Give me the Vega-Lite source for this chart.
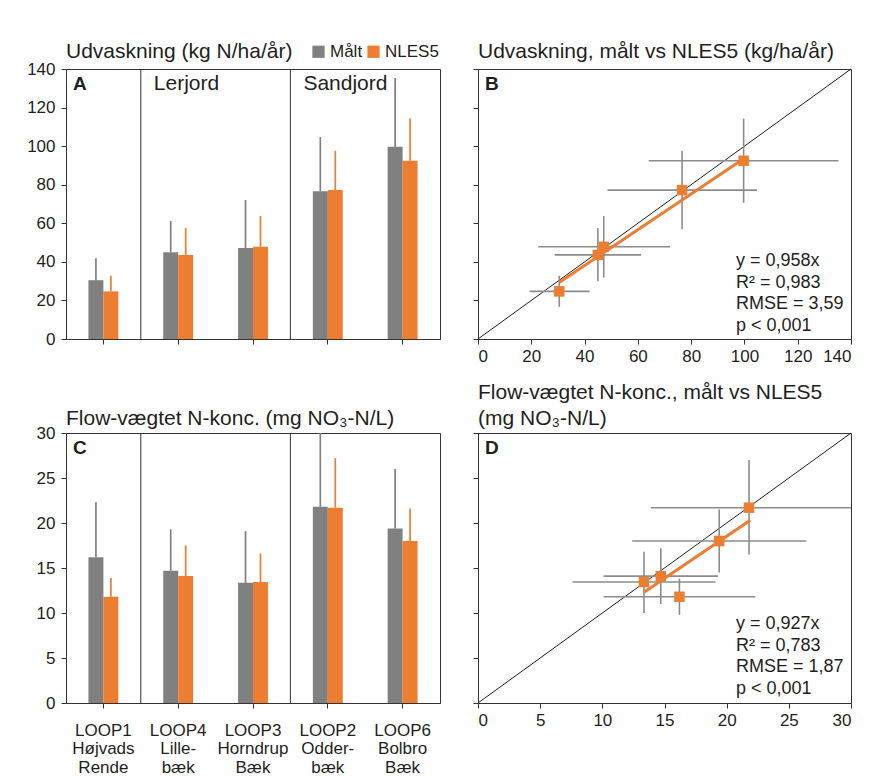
{
  "$schema": "https://vega.github.io/schema/vega-lite/v6.json",
  "padding": {"left": 26, "top": 40, "right": 5, "bottom": 5},
  "background": "white",
  "columns": 2,
  "spacing": {"row": 94, "column": 38},
  "bounds": "flush",
  "datasets": {
    "udv": [
      {"site": "LOOP1|Højvads|Rende", "series": "Målt", "value": 30.5, "upper": 41.9},
      {"site": "LOOP1|Højvads|Rende", "series": "NLES5", "value": 24.7, "upper": 32.8},
      {"site": "LOOP4|Lille-|bæk", "series": "Målt", "value": 45.0, "upper": 61.2},
      {"site": "LOOP4|Lille-|bæk", "series": "NLES5", "value": 43.6, "upper": 57.6},
      {"site": "LOOP3|Horndrup|Bæk", "series": "Målt", "value": 47.2, "upper": 72.1},
      {"site": "LOOP3|Horndrup|Bæk", "series": "NLES5", "value": 47.8, "upper": 63.8},
      {"site": "LOOP2|Odder-|bæk", "series": "Målt", "value": 76.6, "upper": 104.7},
      {"site": "LOOP2|Odder-|bæk", "series": "NLES5", "value": 77.2, "upper": 97.6},
      {"site": "LOOP6|Bolbro|Bæk", "series": "Målt", "value": 99.7, "upper": 135.3},
      {"site": "LOOP6|Bolbro|Bæk", "series": "NLES5", "value": 92.4, "upper": 114.3}
    ],
    "udvxy": [
      {"site": "LOOP1", "maalt": 30.5, "maalt_lo": 19.4, "maalt_hi": 41.9, "nles": 24.7, "nles_lo": 16.7, "nles_hi": 32.8},
      {"site": "LOOP4", "maalt": 45.0, "maalt_lo": 28.8, "maalt_hi": 61.2, "nles": 43.6, "nles_lo": 30.0, "nles_hi": 57.6},
      {"site": "LOOP3", "maalt": 47.2, "maalt_lo": 22.6, "maalt_hi": 72.1, "nles": 47.8, "nles_lo": 31.9, "nles_hi": 63.8},
      {"site": "LOOP2", "maalt": 76.6, "maalt_lo": 48.6, "maalt_hi": 104.7, "nles": 77.2, "nles_lo": 56.9, "nles_hi": 97.6},
      {"site": "LOOP6", "maalt": 99.7, "maalt_lo": 64.1, "maalt_hi": 135.3, "nles": 92.4, "nles_lo": 70.6, "nles_hi": 114.3}
    ],
    "konc": [
      {"site": "LOOP1|Højvads|Rende", "series": "Målt", "value": 16.2, "upper": 22.3},
      {"site": "LOOP1|Højvads|Rende", "series": "NLES5", "value": 11.8, "upper": 13.9},
      {"site": "LOOP4|Lille-|bæk", "series": "Målt", "value": 14.7, "upper": 19.3},
      {"site": "LOOP4|Lille-|bæk", "series": "NLES5", "value": 14.1, "upper": 17.5},
      {"site": "LOOP3|Horndrup|Bæk", "series": "Målt", "value": 13.35, "upper": 19.1},
      {"site": "LOOP3|Horndrup|Bæk", "series": "NLES5", "value": 13.45, "upper": 16.6},
      {"site": "LOOP2|Odder-|bæk", "series": "Målt", "value": 21.8, "upper": 30.0},
      {"site": "LOOP2|Odder-|bæk", "series": "NLES5", "value": 21.7, "upper": 27.2},
      {"site": "LOOP6|Bolbro|Bæk", "series": "Målt", "value": 19.4, "upper": 26.0},
      {"site": "LOOP6|Bolbro|Bæk", "series": "NLES5", "value": 18.0, "upper": 21.6}
    ],
    "koncxy": [
      {"site": "LOOP1", "maalt": 16.2, "maalt_lo": 10.1, "maalt_hi": 22.3, "nles": 11.8, "nles_lo": 9.8, "nles_hi": 13.8},
      {"site": "LOOP4", "maalt": 14.7, "maalt_lo": 10.1, "maalt_hi": 19.3, "nles": 14.1, "nles_lo": 11.0, "nles_hi": 17.2},
      {"site": "LOOP3", "maalt": 13.35, "maalt_lo": 7.6, "maalt_hi": 19.1, "nles": 13.45, "nles_lo": 10.0, "nles_hi": 16.8},
      {"site": "LOOP2", "maalt": 21.8, "maalt_lo": 13.9, "maalt_hi": 30.0, "nles": 21.7, "nles_lo": 16.5, "nles_hi": 27.0},
      {"site": "LOOP6", "maalt": 19.4, "maalt_lo": 12.4, "maalt_hi": 26.4, "nles": 18.0, "nles_lo": 14.5, "nles_hi": 21.5}
    ]
  },
  "concat": [
    {
      "width": 374,
      "height": 270,
      "title": {"text": "Udvaskning (kg N/ha/år)", "offset": -2},
      "layer": [
        {
          "data": {"name": "udv"},
          "encoding": {
            "x": {"field": "site", "type": "nominal", "sort": null,
                  "scale": {"paddingInner": 0.6, "paddingOuter": 0.3},
                  "axis": {"labels": false, "ticks": true, "title": null, "tickLength": 9}},
            "xOffset": {"field": "series", "type": "nominal", "scale": {"paddingInner": 0, "paddingOuter": 0}},
            "color": {"field": "series", "type": "nominal",
                      "scale": {"domain": ["Målt", "NLES5"], "range": ["#808080", "#ED7D31"]},
                      "legend": {"orient": "none", "legendX": 244, "legendY": -26, "direction": "horizontal", "title": null,
                                 "symbolType": "square", "symbolSize": 150, "labelFontSize": 17, "columnPadding": 2,
                                 "labelOffset": 3, "symbolStrokeWidth": 0, "padding": 0, "symbolOpacity": 1}}
          },
          "layer": [
            {"mark": {"type": "bar"},
             "encoding": {"y": {"field": "value", "type": "quantitative", "stack": null,
                                "scale": {"domain": [0, 140], "nice": false},
                                "axis": {"values": [0, 20, 40, 60, 80, 100, 120, 140], "title": null, "tickLength": 11, "labelPadding": 6, "labelOverlap": false}}}},
            {"mark": {"type": "rule", "strokeWidth": 1.7},
             "encoding": {"y": {"field": "value", "type": "quantitative", "title": null,
                                "axis": {"values": [0, 20, 40, 60, 80, 100, 120, 140], "title": null, "tickLength": 11, "labelPadding": 6, "labelOverlap": false}},
                          "y2": {"field": "upper"}}}
          ]
        },
        {
          "data": {"values": [{"boundary": 1}, {"boundary": 3}]},
          "mark": {"type": "rule", "color": "#333333", "strokeWidth": 1},
          "encoding": {"x": {"field": "boundary", "type": "quantitative", "scale": {"domain": [0, 5]}, "axis": null}}
        },
        {
          "data": {"values": [{"label": "Lerjord", "start": 1, "top": 140}, {"label": "Sandjord", "start": 3, "top": 140}]},
          "mark": {"type": "text", "align": "left", "baseline": "top", "dx": 13, "dy": 4, "fontSize": 21, "color": "#231f20"},
          "encoding": {"x": {"field": "start", "type": "quantitative", "scale": {"domain": [0, 5]}, "axis": null},
                       "y": {"field": "top", "type": "quantitative",
                             "axis": {"values": [0, 20, 40, 60, 80, 100, 120, 140], "title": null, "tickLength": 11, "labelPadding": 6, "labelOverlap": false}},
                       "text": {"field": "label"}}
        },
        {
          "data": {"values": [{"panel": "A", "start": 0, "top": 140}]},
          "mark": {"type": "text", "align": "left", "baseline": "top", "dx": 7, "dy": 6, "fontSize": 19, "fontWeight": "bold", "color": "#231f20"},
          "encoding": {"x": {"field": "start", "type": "quantitative", "scale": {"domain": [0, 5]}, "axis": null},
                       "y": {"field": "top", "type": "quantitative",
                             "axis": {"values": [0, 20, 40, 60, 80, 100, 120, 140], "title": null, "tickLength": 11, "labelPadding": 6, "labelOverlap": false}},
                       "text": {"field": "panel"}}
        }
      ],
      "resolve": {"scale": {"x": "independent"}, "axis": {"x": "independent"}}
    },
    {
      "width": 373,
      "height": 270,
      "title": {"text": "Udvaskning, målt vs NLES5 (kg/ha/år)", "offset": 7},
      "encoding": {
        "x": {"type": "quantitative", "scale": {"domain": [0, 140], "nice": false},
              "axis": {"values": [0, 20, 40, 60, 80, 100, 120, 140], "title": null, "tickLength": 9, "labelPadding": 4, "labelOverlap": false}},
        "y": {"type": "quantitative", "scale": {"domain": [0, 140], "nice": false},
              "axis": {"values": [0, 20, 40, 60, 80, 100, 120, 140], "title": null, "tickLength": 11, "labels": false}}
      },
      "layer": [
        {
          "data": {"values": [{"x": 0, "y": 0, "x2": 140, "y2": 140}]},
          "mark": {"type": "rule", "color": "#231f20", "strokeWidth": 1},
          "encoding": {"x": {"field": "x"}, "y": {"field": "y"}, "x2": {"field": "x2"}, "y2": {"field": "y2"}}
        },
        {
          "data": {"name": "udvxy"},
          "mark": {"type": "rule", "color": "#8c8c8c", "strokeWidth": 1.6},
          "encoding": {"x": {"field": "maalt_lo"}, "x2": {"field": "maalt_hi"}, "y": {"field": "nles"}}
        },
        {
          "data": {"name": "udvxy"},
          "mark": {"type": "rule", "color": "#8c8c8c", "strokeWidth": 1.6},
          "encoding": {"x": {"field": "maalt"}, "y": {"field": "nles_lo"}, "y2": {"field": "nles_hi"}}
        },
        {
          "data": {"values": [{"x": 30.5, "y": 29.3, "x2": 99.7, "y2": 93.5}]},
          "mark": {"type": "rule", "color": "#ED7D31", "strokeWidth": 3},
          "encoding": {"x": {"field": "x"}, "y": {"field": "y"}, "x2": {"field": "x2"}, "y2": {"field": "y2"}}
        },
        {
          "data": {"name": "udvxy"},
          "mark": {"type": "point", "shape": "square", "filled": true, "size": 110, "opacity": 1, "color": "#ED7D31"},
          "encoding": {"x": {"field": "maalt"}, "y": {"field": "nles"}}
        },
        {
          "data": {"values": [{"panel": "B", "x": 0, "y": 140}]},
          "mark": {"type": "text", "align": "left", "baseline": "top", "dx": 7, "dy": 6, "fontSize": 19, "fontWeight": "bold", "color": "#231f20"},
          "encoding": {"x": {"field": "x"}, "y": {"field": "y"}, "text": {"field": "panel"}}
        },
        {
          "data": {"values": [{"x": 96.8, "y": 37.85}]},
          "mark": {"type": "text", "align": "left", "baseline": "alphabetic", "fontSize": 18, "lineHeight": 21.7, "color": "#231f20",
                   "text": ["y = 0,958x", "R² = 0,983", "RMSE = 3,59", "p < 0,001"]},
          "encoding": {"x": {"field": "x"}, "y": {"field": "y"}}
        }
      ]
    },
    {
      "width": 374,
      "height": 270,
      "title": {"text": "Flow-vægtet N-konc. (mg NO₃-N/L)", "offset": -5},
      "layer": [
        {
          "data": {"name": "konc"},
          "encoding": {
            "x": {"field": "site", "type": "nominal", "sort": null,
                  "scale": {"paddingInner": 0.6, "paddingOuter": 0.3},
                  "axis": {"title": null, "ticks": true, "tickLength": 9, "labelExpr": "split(datum.label, '|')", "labelLineHeight": 18.5,
                           "labelPadding": 14, "labelAngle": 0, "labelOverlap": false, "labelFontSize": 17}},
            "xOffset": {"field": "series", "type": "nominal", "scale": {"paddingInner": 0, "paddingOuter": 0}},
            "color": {"field": "series", "type": "nominal",
                      "scale": {"domain": ["Målt", "NLES5"], "range": ["#808080", "#ED7D31"]}, "legend": null}
          },
          "layer": [
            {"mark": {"type": "bar"},
             "encoding": {"y": {"field": "value", "type": "quantitative", "stack": null,
                                "scale": {"domain": [0, 30], "nice": false},
                                "axis": {"values": [0, 5, 10, 15, 20, 25, 30], "title": null, "tickLength": 11, "labelPadding": 6, "labelOverlap": false}}}},
            {"mark": {"type": "rule", "strokeWidth": 1.7},
             "encoding": {"y": {"field": "value", "type": "quantitative",
                                "axis": {"values": [0, 5, 10, 15, 20, 25, 30], "title": null, "tickLength": 11, "labelPadding": 6, "labelOverlap": false}},
                          "y2": {"field": "upper"}}}
          ]
        },
        {
          "data": {"values": [{"boundary": 1}, {"boundary": 3}]},
          "mark": {"type": "rule", "color": "#333333", "strokeWidth": 1},
          "encoding": {"x": {"field": "boundary", "type": "quantitative", "scale": {"domain": [0, 5]}, "axis": null}}
        },
        {
          "data": {"values": [{"panel": "C", "start": 0, "top": 30}]},
          "mark": {"type": "text", "align": "left", "baseline": "top", "dx": 7, "dy": 6, "fontSize": 19, "fontWeight": "bold", "color": "#231f20"},
          "encoding": {"x": {"field": "start", "type": "quantitative", "scale": {"domain": [0, 5]}, "axis": null},
                       "y": {"field": "top", "type": "quantitative",
                             "axis": {"values": [0, 5, 10, 15, 20, 25, 30], "title": null, "tickLength": 11, "labelPadding": 6, "labelOverlap": false}},
                       "text": {"field": "panel"}}
        }
      ],
      "resolve": {"scale": {"x": "independent"}, "axis": {"x": "independent"}}
    },
    {
      "width": 373,
      "height": 270,
      "title": {"text": ["Flow-vægtet N-konc., målt vs NLES5", "(mg NO₃-N/L)"], "offset": 4, "lineHeight": 26},
      "encoding": {
        "x": {"type": "quantitative", "scale": {"domain": [0, 30], "nice": false},
              "axis": {"values": [0, 5, 10, 15, 20, 25, 30], "title": null, "tickLength": 9, "labelPadding": 4, "labelOverlap": false}},
        "y": {"type": "quantitative", "scale": {"domain": [0, 30], "nice": false},
              "axis": {"values": [0, 5, 10, 15, 20, 25, 30], "title": null, "tickLength": 11, "labels": false}}
      },
      "layer": [
        {
          "data": {"values": [{"x": 0, "y": 0, "x2": 30, "y2": 30}]},
          "mark": {"type": "rule", "color": "#231f20", "strokeWidth": 1},
          "encoding": {"x": {"field": "x"}, "y": {"field": "y"}, "x2": {"field": "x2"}, "y2": {"field": "y2"}}
        },
        {
          "data": {"name": "koncxy"},
          "mark": {"type": "rule", "color": "#8c8c8c", "strokeWidth": 1.6, "clip": true},
          "encoding": {"x": {"field": "maalt_lo"}, "x2": {"field": "maalt_hi"}, "y": {"field": "nles"}}
        },
        {
          "data": {"name": "koncxy"},
          "mark": {"type": "rule", "color": "#8c8c8c", "strokeWidth": 1.6, "clip": true},
          "encoding": {"x": {"field": "maalt"}, "y": {"field": "nles_lo"}, "y2": {"field": "nles_hi"}}
        },
        {
          "data": {"values": [{"x": 13.35, "y": 12.3, "x2": 21.9, "y2": 20.3}]},
          "mark": {"type": "rule", "color": "#ED7D31", "strokeWidth": 3},
          "encoding": {"x": {"field": "x"}, "y": {"field": "y"}, "x2": {"field": "x2"}, "y2": {"field": "y2"}}
        },
        {
          "data": {"name": "koncxy"},
          "mark": {"type": "point", "shape": "square", "filled": true, "size": 110, "opacity": 1, "color": "#ED7D31"},
          "encoding": {"x": {"field": "maalt"}, "y": {"field": "nles"}}
        },
        {
          "data": {"values": [{"panel": "D", "x": 0, "y": 30}]},
          "mark": {"type": "text", "align": "left", "baseline": "top", "dx": 7, "dy": 6, "fontSize": 19, "fontWeight": "bold", "color": "#231f20"},
          "encoding": {"x": {"field": "x"}, "y": {"field": "y"}, "text": {"field": "panel"}}
        },
        {
          "data": {"values": [{"x": 20.75, "y": 8.22}]},
          "mark": {"type": "text", "align": "left", "baseline": "alphabetic", "fontSize": 18, "lineHeight": 21.7, "color": "#231f20",
                   "text": ["y = 0,927x", "R² = 0,783", "RMSE = 1,87", "p < 0,001"]},
          "encoding": {"x": {"field": "x"}, "y": {"field": "y"}}
        }
      ]
    }
  ],
  "config": {
    "font": "Liberation Sans",
    "view": {"stroke": "#333333", "strokeWidth": 1},
    "title": {"anchor": "start", "frame": "group", "fontSize": 21, "fontWeight": "normal", "color": "#231f20", "font": "Liberation Sans"},
    "axis": {"grid": false, "labelFontSize": 17, "labelColor": "#231f20", "domainColor": "#333333", "tickColor": "#333333",
             "labelFont": "Liberation Sans"},
    "legend": {"labelFont": "Liberation Sans", "labelColor": "#231f20"}
  }
}
